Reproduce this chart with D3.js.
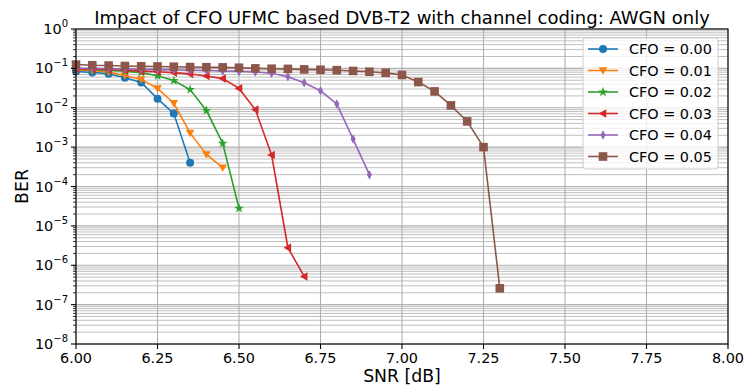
<!DOCTYPE html>
<html>
<head>
<meta charset="utf-8">
<script src="https://cdn.jsdelivr.net/npm/d3@7"></script>
<style>
  body { margin: 0; background: #fff; }
  text { font-family: "DejaVu Sans", sans-serif; }
</style>
</head>
<body>
<div id="canvas"></div>
<script>
// SNR values (dB) shared by all curves, each curve uses a prefix of them
const snr = [6.00, 6.05, 6.10, 6.15, 6.20, 6.25, 6.30, 6.35, 6.40, 6.45, 6.50,
             6.55, 6.60, 6.65, 6.70, 6.75, 6.80, 6.85, 6.90, 6.95, 7.00,
             7.05, 7.10, 7.15, 7.20, 7.25, 7.30];

const berCfo000 = [0.083, 0.079, 0.073, 0.058, 0.044, 0.017, 0.0071, 4e-4];
const berCfo001 = [0.09, 0.088, 0.08, 0.066, 0.052, 0.031, 0.013, 0.0023, 6.5e-4, 3e-4];
const berCfo002 = [0.095, 0.092, 0.088, 0.085, 0.078, 0.065, 0.049, 0.029, 0.0085, 1.25e-3, 2.8e-5];
const berCfo003 = [0.097, 0.095, 0.092, 0.09, 0.085, 0.082, 0.078, 0.072, 0.064, 0.055,
                   0.031, 0.009, 6.3e-4, 2.8e-6, 5.2e-7];
const berCfo004 = [0.1, 0.1, 0.098, 0.097, 0.095, 0.093, 0.092, 0.09, 0.088, 0.086,
                   0.083, 0.081, 0.075, 0.061, 0.043, 0.027, 0.0125, 1.6e-3, 2e-4];
const berCfo005 = [0.125, 0.12, 0.118, 0.115, 0.113, 0.112, 0.11, 0.108, 0.107, 0.106,
                   0.104, 0.1, 0.098, 0.097, 0.094, 0.092, 0.09, 0.086, 0.082, 0.077,
                   0.068, 0.045, 0.026, 0.0115, 0.0045, 1e-3, 2.6e-7];

const seriesLabels = ["CFO = 0.00", "CFO = 0.01", "CFO = 0.02", "CFO = 0.03", "CFO = 0.04", "CFO = 0.05"];
const seriesValues = [berCfo000, berCfo001, berCfo002, berCfo003, berCfo004, berCfo005];
const xTicks = [6.00, 6.25, 6.50, 6.75, 7.00, 7.25, 7.50, 7.75, 8.00];
const yExponents = [0, -1, -2, -3, -4, -5, -6, -7, -8];

const colors = ["#1f77b4", "#ff7f0e", "#2ca02c", "#d62728", "#9467bd", "#8c564b"];
const markers = ["circle", "tridown", "star", "trileft", "thindiamond", "square"];

const width = 744, height = 387;
const margin = { top: 29, right: 16, bottom: 43, left: 76 };
const pw = width - margin.left - margin.right;
const ph = height - margin.top - margin.bottom;

const x = d3.scaleLinear().domain([6, 8]).range([0, pw]);
const y = d3.scaleLog().domain([1e-8, 1]).range([ph, 0]);

const svg = d3.select("#canvas").append("svg")
    .attr("width", width)
    .attr("height", height);

const g = svg.append("g").attr("transform", `translate(${margin.left},${margin.top})`);

// minor + major log ticks for the grid
const yMinor = [];
for (let e = -8; e < 0; e++) {
    for (let m = 2; m <= 9; m++) yMinor.push(m * Math.pow(10, e));
}

// grid
g.append("g").selectAll("line.hgrid")
    .data(yMinor)
    .join("line")
    .attr("x1", 0).attr("x2", pw)
    .attr("y1", d => y(d)).attr("y2", d => y(d))
    .attr("stroke", "#b0b0b0").attr("stroke-width", 1).attr("opacity", 0.8);

g.append("g").selectAll("line.hmaj")
    .data(yExponents)
    .join("line")
    .attr("x1", 0).attr("x2", pw)
    .attr("y1", d => y(Math.pow(10, d))).attr("y2", d => y(Math.pow(10, d)))
    .attr("stroke", "#b0b0b0").attr("stroke-width", 1.1);

g.append("g").selectAll("line.vgrid")
    .data(xTicks)
    .join("line")
    .attr("x1", d => x(d)).attr("x2", d => x(d))
    .attr("y1", 0).attr("y2", ph)
    .attr("stroke", "#b0b0b0").attr("stroke-width", 1.1);

// marker shapes
function markerPath(type) {
    const r = 4.3;
    switch (type) {
        case "circle": return d3.symbol().type(d3.symbolCircle).size(Math.PI * 4 * 4)();
        case "square": return `M${-r},${-r}H${r}V${r}H${-r}Z`;
        case "tridown": return `M${-r},${-r * 0.75}L${r},${-r * 0.75}L0,${r}Z`;
        case "trileft": return `M${r * 0.75},${-r}L${r * 0.75},${r}L${-r},0Z`;
        case "thindiamond": return `M0,${-r * 1.1}L${r * 0.6},0L0,${r * 1.1}L${-r * 0.6},0Z`;
        case "star": return d3.symbol().type(d3.symbolStar).size(30)();
    }
}

const line = d3.line().x(d => x(d[0])).y(d => y(d[1]));

const plot = g.append("g");
seriesValues.forEach((vals, i) => {
    const pts = vals.map((v, j) => [snr[j], v]);
    plot.append("path")
        .datum(pts)
        .attr("d", line)
        .attr("fill", "none")
        .attr("stroke", colors[i])
        .attr("stroke-width", 1.6);
    plot.selectAll(null)
        .data(pts)
        .join("path")
        .attr("transform", d => `translate(${x(d[0])},${y(d[1])})`)
        .attr("d", markerPath(markers[i]))
        .attr("fill", colors[i]);
});

// frame
g.append("rect")
    .attr("width", pw).attr("height", ph)
    .attr("fill", "none").attr("stroke", "#000").attr("stroke-width", 1.1);

// x ticks
const xAxis = g.append("g").attr("transform", `translate(0,${ph})`);
xAxis.selectAll("line").data(xTicks).join("line")
    .attr("x1", d => x(d)).attr("x2", d => x(d))
    .attr("y1", 0).attr("y2", 5)
    .attr("stroke", "#000").attr("stroke-width", 1.1);
xAxis.selectAll("text").data(xTicks).join("text")
    .attr("x", d => x(d)).attr("y", 19)
    .attr("text-anchor", "middle")
    .attr("font-size", "14.4px")
    .text(d => d.toFixed(2));

// y ticks
const yAxis = g.append("g");
yAxis.selectAll("line.minor").data(yMinor).join("line")
    .attr("x1", -3).attr("x2", 0)
    .attr("y1", d => y(d)).attr("y2", d => y(d))
    .attr("stroke", "#000").attr("stroke-width", 0.8);
yAxis.selectAll("line.major").data(yExponents).join("line")
    .attr("x1", -5).attr("x2", 0)
    .attr("y1", d => y(Math.pow(10, d))).attr("y2", d => y(Math.pow(10, d)))
    .attr("stroke", "#000").attr("stroke-width", 1.1);
const yl = yAxis.selectAll("text").data(yExponents).join("text")
    .attr("x", -8)
    .attr("y", d => y(Math.pow(10, d)) + 5)
    .attr("text-anchor", "end")
    .attr("font-size", "14.4px");
yl.append("tspan").text("10");
yl.append("tspan")
    .attr("dy", -7)
    .attr("font-size", "10px")
    .text(d => d === 0 ? "0" : "\u2212" + Math.abs(d));

// axis labels and title
svg.append("text")
    .attr("x", margin.left + pw / 2).attr("y", height - 5)
    .attr("text-anchor", "middle").attr("font-size", "17.3px")
    .text("SNR [dB]");
svg.append("text")
    .attr("transform", `translate(28,${margin.top + pw / 2 * 0 + ph / 2}) rotate(-90)`)
    .attr("text-anchor", "middle").attr("font-size", "17.3px")
    .text("BER");
svg.append("text")
    .attr("x", margin.left + pw / 2).attr("y", 24)
    .attr("text-anchor", "middle").attr("font-size", "18px")
    .text("Impact of CFO UFMC based DVB-T2 with channel coding: AWGN only");

// legend
const legend = g.append("g").attr("transform", `translate(${583 - margin.left},${38 - margin.top})`);
legend.append("rect")
    .attr("width", 135).attr("height", 131)
    .attr("rx", 3)
    .attr("fill", "#fff").attr("fill-opacity", 0.8)
    .attr("stroke", "#ccc").attr("stroke-width", 1);
seriesLabels.forEach((lab, i) => {
    const ly = 11 + i * 21.5;
    legend.append("line")
        .attr("x1", 5).attr("x2", 35).attr("y1", ly).attr("y2", ly)
        .attr("stroke", colors[i]).attr("stroke-width", 1.6);
    legend.append("path")
        .attr("transform", `translate(20,${ly})`)
        .attr("d", markerPath(markers[i]))
        .attr("fill", colors[i]);
    legend.append("text")
        .attr("x", 46).attr("y", ly + 5)
        .attr("font-size", "14.4px")
        .text(lab);
});
</script>
</body>
</html>
